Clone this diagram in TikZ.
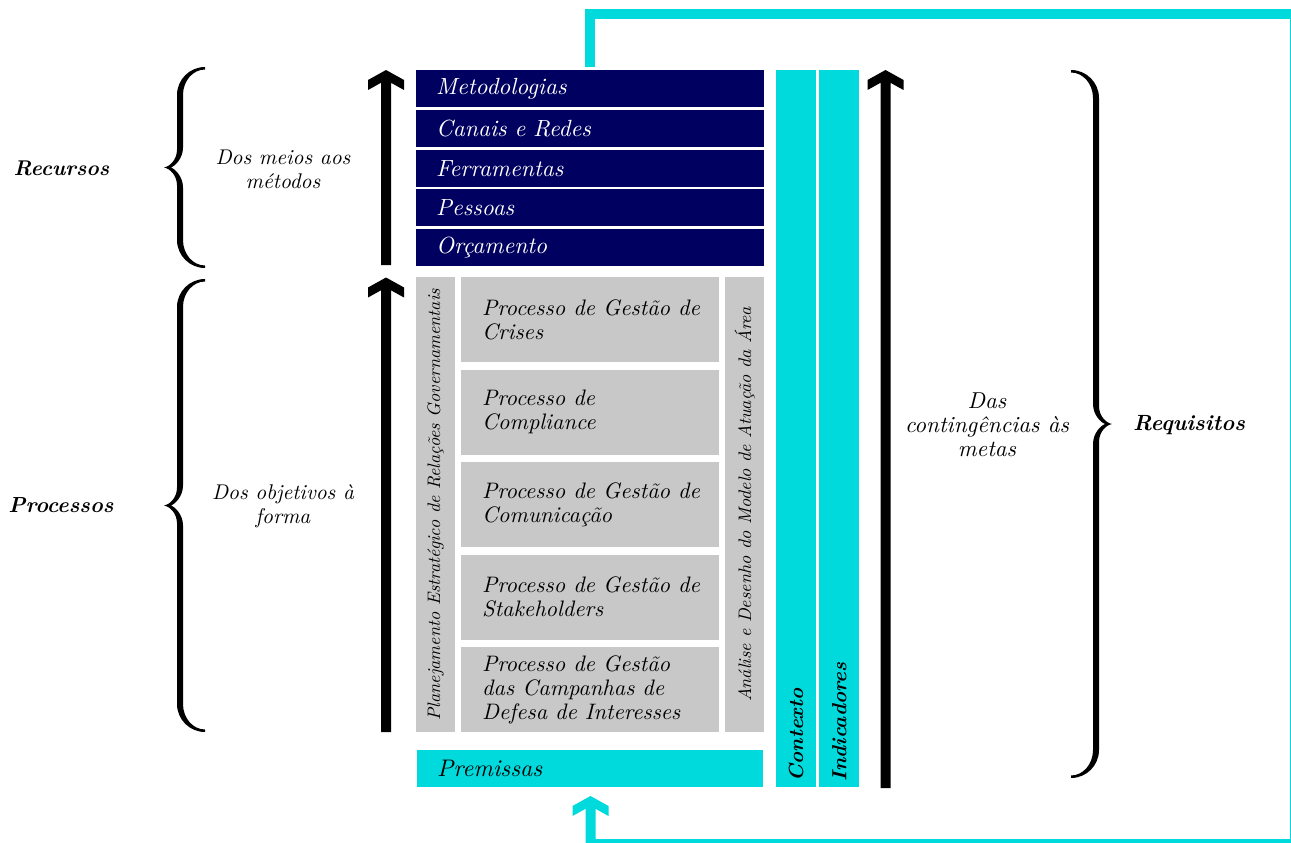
\documentclass[tikz,border=0pt]{standalone}
\usepackage{fontspec}
\setmainfont{lmroman10-regular.otf}[ItalicFont=lmroman10-italic.otf, BoldFont=lmroman10-bold.otf, BoldItalicFont=lmroman10-bolditalic.otf]
\usetikzlibrary{positioning}
\definecolor{navyc}{RGB}{0,0,96}
\definecolor{cyanc}{RGB}{0,218,221}
\definecolor{grayc}{RGB}{200,200,200}
\newcommand\UpArr[4]{\fill[#4] (#1,#2) -- ++(18,10) -- ++(0,10) -- ++(-13,-7.2) -- (#1+5,#3) -- (#1-5,#3) -- (#1-5,#2+12.8) -- ++(-13,7.2) -- ++(0,-10) -- cycle;}
\newcommand\BraceShape[1]{%
 \fill (41,-#1) .. controls (25.54,-#1) and (13,-#1+12.54) .. (13,-#1+28)
   -- (13,-18) .. controls (13,-8) and (6,-1) .. (0,0)
   .. controls (6,1) and (13,8) .. (13,18)
   -- (13,#1-28) .. controls (13,#1-12.54) and (25.54,#1) .. (41,#1)
   -- (41,#1-2.5) .. controls (28.86,#1-2.5) and (19,#1-13.92) .. (19,#1-28)
   -- (19,20) .. controls (19,9) and (11,1.5) .. (7,0)
   .. controls (11,-1.5) and (19,-9) .. (19,-20)
   -- (19,-#1+28) .. controls (19,-#1+13.92) and (28.86,-#1+2.5) .. (41,-#1+2.5)
   -- cycle;}
\tikzset{
 navybox/.style={fill=navyc, draw=none, minimum width=348pt, minimum height=37pt, anchor=north west, inner xsep=20pt, text width=308pt, align=left, text=white, font=\itshape\fontsize{23.4}{25}\selectfont},
 prembox/.style={fill=cyanc, draw=none, minimum width=346pt, minimum height=37pt, anchor=north west, inner xsep=20pt, text width=306pt, align=left, text=black, font=\itshape\fontsize{24}{26}\selectfont},
 graybox/.style={fill=grayc, draw=none, minimum width=258pt, minimum height=85pt, anchor=north west, inner sep=0pt},
 graycol/.style={fill=grayc, draw=none, minimum width=39pt, minimum height=455pt, anchor=north west, inner sep=0pt},
 cyancol/.style={fill=cyanc, draw=none, minimum width=40pt, minimum height=717pt, anchor=north west, inner sep=0pt},
 boxtxt/.style={anchor=west, inner sep=0pt, align=left, font=\itshape\fontsize{22.4}{24}\selectfont},
 vtxt/.style={rotate=90, inner sep=0pt, font=\itshape\fontsize{18.1}{20}\selectfont},
 vbold/.style={rotate=90, anchor=west, inner sep=0pt, font=\bfseries\itshape\fontsize{20.5}{24}\selectfont},
 sidetxt/.style={inner sep=0pt, align=center, font=\itshape\fontsize{21.3}{24}\selectfont},
 sidetxtr/.style={inner sep=0pt, align=center, font=\itshape\fontsize{23}{24}\selectfont},
 sidebold/.style={inner sep=0pt, font=\bfseries\itshape\fontsize{21.3}{24}\selectfont},
 loopline/.style={draw=cyanc, line width=10pt, line join=miter, line cap=butt}
}
\begin{document}
\begin{tikzpicture}[x=1pt,y=-1pt]
\useasboundingbox (0,0) rectangle (1291,843);
\clip (0,0) rectangle (1291,843);
\fill[white] (0,0) rectangle (1291,843);

% feedback loop
\coordinate (loopA) at (590,67);
\coordinate (loopB) at (1295,14);
\coordinate (loopC) at (1295,844);
\coordinate (loopD) at (585.5,844);
\draw[loopline] (loopA) |- (loopB) -- (loopC) -- (loopD);
\UpArr{590.5}{796}{844}{cyanc}

% resources
\node[navybox] (m1) at (416,70) {Metodologias};
\node[navybox] (m2) at (416,110) {Canais e Redes};
\node[navybox] (m3) at (416,150) {Ferramentas};
\node[navybox] (m4) at (416,189) {Pessoas};
\node[navybox] (m5) at (416,229) {Orçamento};

% processes
\node[graycol] (plan) at (416,277) {};
\node[vtxt] (plantxt) at (plan.center) {Planejamento Estratégico de Relações Governamentais};
\node[graycol] (anal) at (725,277) {};
\node[vtxt] (analtxt) at (anal.center) {Análise e Desenho do Modelo de Atuação da Área};

\node[graybox] (g1) at (461,277) {};
\node[graybox] (g2) at (461,369.5) {};
\node[graybox] (g3) at (461,462) {};
\node[graybox] (g4) at (461,554.5) {};
\node[graybox] (g5) at (461,647) {};
\node[boxtxt] (t1) at ([xshift=21pt]g1.west) {Processo de Gestão de\\Crises};
\node[boxtxt] (t2) at ([xshift=21pt]g2.west) {Processo de\\Compliance};
\node[boxtxt] (t3) at ([xshift=21pt]g3.west) {Processo de Gestão de\\Comunicação};
\node[boxtxt] (t4) at ([xshift=21pt]g4.west) {Processo de Gestão de\\Stakeholders};
\node[boxtxt] (t5) at ([xshift=21pt]g5.west) {Processo de Gestão\\das Campanhas de\\Defesa de Interesses};

\node[prembox] (prem) at (417,750) {Premissas};

% context columns
\node[cyancol] (ctx) at (776,70) {};
\node[vbold] (ctxtxt) at ([yshift=6pt]ctx.south) {Contexto};
\node[cyancol] (ind) at (819,70) {};
\node[vbold] (indtxt) at ([yshift=6pt]ind.south) {Indicadores};

% arrows
\UpArr{386}{70}{265}{black}
\UpArr{386}{277.5}{732}{black}
\UpArr{885.5}{70}{788}{black}

% braces
\begin{scope}[shift={(164,167.5)}] \BraceShape{100.5} \end{scope}
\begin{scope}[shift={(164,505.5)}] \BraceShape{226.5} \end{scope}
\begin{scope}[shift={(1112,424)}, xscale=-1] \BraceShape{354} \end{scope}

% labels
\node[sidebold] (rec) at (61.5,168) {Recursos};
\node[sidebold, font=\bfseries\itshape\fontsize{21.8}{24}\selectfont] (proc) at (61,505) {Processos};
\node[sidebold, font=\bfseries\itshape\fontsize{22}{24}\selectfont] (req) at (1189,425) {Requisitos};
\node[sidetxt] (meios) at (283,169) {Dos meios aos\\métodos};
\node[sidetxt] (obj) at (283,506) {Dos objetivos à\\forma};
\node[sidetxtr] (cont) at (987,425) {Das\\contingências às\\metas};
\end{tikzpicture}
\end{document}
